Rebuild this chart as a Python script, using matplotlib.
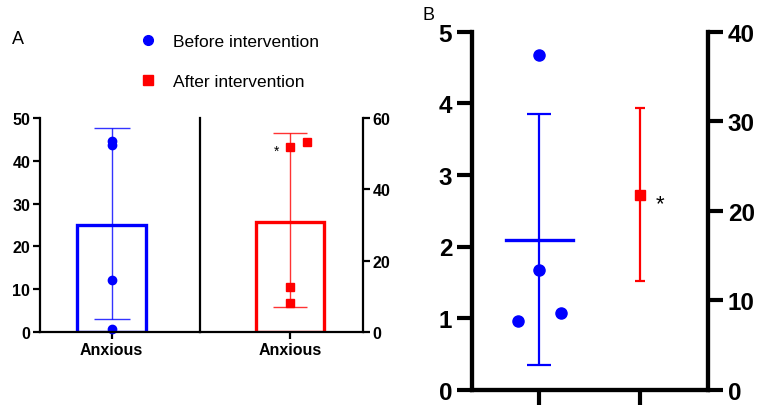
import matplotlib.pyplot as plt
import numpy as np
from matplotlib.lines import Line2D

plt.rcParams['font.family'] = ['Liberation Sans', 'DejaVu Sans']

# panel A data
a_before_pts = [44.7, 43.7, 12.2, 0.7]
a_before_mean = 25.0
a_before_err = (3.0, 47.6)
a_after_pts = [51.8, 53.4, 12.5, 8.1]
a_after_x = [0, 0.195, 0, 0]
a_after_mean = 30.9
a_after_err = (6.9, 55.8)
a_label = "Anxious"

# panel B data
b_before_pts = [4.675, 1.676, 0.964, 1.067]
b_before_x = [0, 0, -0.215, 0.213]
b_before_mean = 2.095
b_before_err = (0.35, 3.846)
b_after_mean = 21.75
b_after_err = (12.15, 31.5)

blue = '#0000ff'
red = '#ff0000'

fig = plt.figure(figsize=(7.61, 4.06), dpi=100)

# ---- panel A ----
axL = fig.add_axes([40/761, 1-333/406, 160/761, 214/406])
axR = fig.add_axes([200/761, 1-333/406, 163/761, 214/406])
axR.patch.set_visible(False)

axL.bar([0], [a_before_mean], width=0.8, facecolor='none', edgecolor=blue, linewidth=2.4)
axL.errorbar([0], [a_before_mean],
             yerr=[[a_before_mean-a_before_err[0]], [a_before_err[1]-a_before_mean]],
             fmt='none', ecolor=blue, elinewidth=1, capsize=13, capthick=1, alpha=0.8)
axL.plot(np.zeros(len(a_before_pts)), a_before_pts, 'o', color=blue, ms=6, clip_on=False)
axL.set_xlim(-0.833, 1.027)
axL.set_ylim(0, 50)
axL.set_yticks([0, 10, 20, 30, 40, 50])
axL.set_xticks([0])
axL.set_xticklabels([a_label])
axL.spines['top'].set_visible(False)
for s in ['left', 'bottom', 'right']:
    axL.spines[s].set_linewidth(1.6)
axL.tick_params(width=1.6, length=5, labelsize=11.5, pad=2)

axR.bar([0], [a_after_mean], width=0.8, facecolor='none', edgecolor=red, linewidth=2.4)
axR.errorbar([0], [a_after_mean],
             yerr=[[a_after_mean-a_after_err[0]], [a_after_err[1]-a_after_mean]],
             fmt='none', ecolor=red, elinewidth=1, capsize=12.5, capthick=1, alpha=0.8)
axR.plot(a_after_x, a_after_pts, 's', color=red, ms=6, clip_on=False)
axR.text(-0.155, 50.8, '*', ha='center', va='center', fontsize=10)
axR.set_xlim(-1.049, 0.851)
axR.set_ylim(0, 60)
axR.set_yticks([0, 20, 40, 60])
axR.set_xticks([0])
axR.set_xticklabels([a_label])
axR.yaxis.tick_right()
axR.spines['top'].set_visible(False)
axR.spines['left'].set_visible(False)
for s in ['bottom', 'right']:
    axR.spines[s].set_linewidth(1.6)
axR.tick_params(width=1.6, length=5, labelsize=11.5, pad=2)

for ax in (axL, axR):
    for t in ax.get_xticklabels() + ax.get_yticklabels():
        t.set_fontweight('bold')

fig.text(12/761, 1-40/406, 'A', fontsize=13, va='center')

handles = [Line2D([], [], marker='o', color=blue, ls='none', ms=7),
           Line2D([], [], marker='s', color=red, ls='none', ms=6.5)]
fig.legend(handles, ['Before intervention', 'After intervention'],
           loc='upper left', bbox_to_anchor=(141/761, 1-35/406), frameon=False,
           fontsize=12.5, labelspacing=1.41, handlelength=0.8, handletextpad=1.03,
           borderaxespad=0, borderpad=0)

# ---- panel B ----
axB = fig.add_axes([471.7/761, 1-390.7/406, 236.6/761, 358/406])
axB2 = axB.twinx()

axB.errorbar([0], [b_before_mean],
             yerr=[[b_before_mean-b_before_err[0]], [b_before_err[1]-b_before_mean]],
             fmt='none', ecolor=blue, elinewidth=1.6, capsize=8.6, capthick=1.6)
axB.plot([-0.332, 0.332], [b_before_mean, b_before_mean], color=blue, lw=2.4)
axB.plot(b_before_x, b_before_pts, 'o', color=blue, ms=8, clip_on=False)
axB.set_xlim(-0.671, 1.678)
axB.set_ylim(0, 5)
axB.set_xticks([0, 1])
axB.set_xticklabels(['', ''])

axB2.errorbar([1], [b_after_mean],
              yerr=[[b_after_mean-b_after_err[0]], [b_after_err[1]-b_after_mean]],
              fmt='s', color=red, ecolor=red, ms=7.5, elinewidth=1.6, capsize=3.6, capthick=1.6)
axB2.text(1.2, 20.75, '*', ha='center', va='center', fontsize=16)
axB2.set_ylim(0, 40)
axB2.set_yticks([0, 10, 20, 30, 40])

for ax in (axB, axB2):
    ax.spines['top'].set_visible(False)
    for s in ['left', 'right', 'bottom']:
        ax.spines[s].set_linewidth(3)
    ax.tick_params(width=3, length=11, labelsize=17.5, pad=3)
    for t in ax.get_yticklabels():
        t.set_fontweight('bold')

fig.text(422/761, 1-15/406, 'B', fontsize=13, va='center')

fig.savefig('out.png', dpi=100)
